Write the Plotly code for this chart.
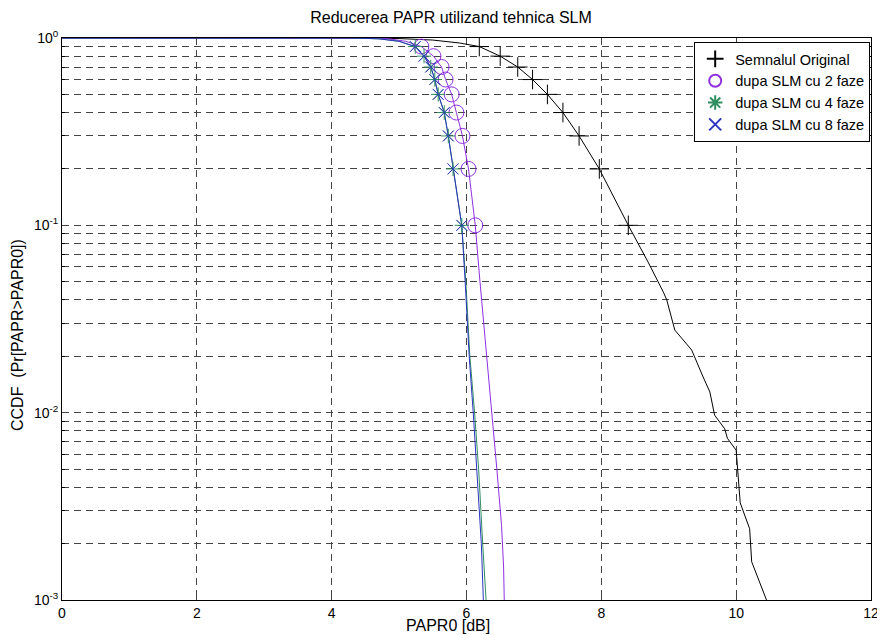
import plotly.graph_objects as go

# ---- data ----
marker_levels = [0.9, 0.8, 0.7, 0.6, 0.5, 0.4, 0.3, 0.2, 0.1]

orig_x = [0.0, 3.5, 4.5, 5.0, 5.5, 5.9, 6.19, 6.5, 6.76, 6.98, 7.2, 7.43, 7.67, 7.97, 8.4,
          8.7, 8.92, 8.97, 9.09, 9.31, 9.34, 9.51, 9.61, 9.68, 9.83, 9.87, 10.0, 10.06,
          10.2, 10.23, 10.45]
orig_y = [1.0, 1.0, 0.999, 0.993, 0.975, 0.94, 0.9, 0.8, 0.7, 0.6, 0.5, 0.4, 0.3, 0.2, 0.1,
          0.063, 0.044, 0.040, 0.0276, 0.0220, 0.0216, 0.0155, 0.0129, 0.0097, 0.0082, 0.0073,
          0.0063, 0.0033, 0.0024, 0.0016, 0.001]
orig_mx = [6.19, 6.50, 6.76, 6.98, 7.20, 7.43, 7.67, 7.97, 8.40]

slm2_x = [0.0, 4.4, 4.8, 5.1, 5.33, 5.51, 5.63, 5.69, 5.78, 5.85, 5.94, 6.03, 6.13,
          6.2, 6.3, 6.38, 6.45, 6.52, 6.55, 6.56]
slm2_y = [1.0, 1.0, 0.995, 0.96, 0.9, 0.8, 0.7, 0.6, 0.5, 0.4, 0.3, 0.2, 0.1,
          0.05, 0.02, 0.01, 0.005, 0.0025, 0.0015, 0.001]
slm2_mx = [5.33, 5.51, 5.63, 5.69, 5.78, 5.85, 5.94, 6.03, 6.13]

slm4_x = [0.0, 4.3, 4.7, 5.0, 5.24, 5.37, 5.47, 5.53, 5.58, 5.67, 5.73, 5.80, 5.93,
          5.99, 6.05, 6.12, 6.18, 6.24, 6.29]
slm4_y = [1.0, 1.0, 0.99, 0.96, 0.9, 0.8, 0.7, 0.6, 0.5, 0.4, 0.3, 0.2, 0.1,
          0.05, 0.02, 0.01, 0.005, 0.002, 0.001]
slm4_mx = [5.24, 5.37, 5.47, 5.53, 5.58, 5.67, 5.73, 5.80, 5.93]

slm8_x = [0.0, 4.3, 4.7, 5.0, 5.24, 5.37, 5.47, 5.53, 5.58, 5.67, 5.73, 5.80, 5.93,
          5.98, 6.04, 6.10, 6.15, 6.22, 6.25]
slm8_y = [1.0, 1.0, 0.99, 0.96, 0.9, 0.8, 0.7, 0.6, 0.5, 0.4, 0.3, 0.2, 0.1,
          0.05, 0.02, 0.01, 0.005, 0.002, 0.001]
slm8_mx = [5.24, 5.37, 5.47, 5.53, 5.58, 5.67, 5.73, 5.80, 5.93]

names = ["Semnalul Original", "dupa SLM cu 2 faze", "dupa SLM cu 4 faze", "dupa SLM cu 8 faze"]
x_ticks = [0, 2, 4, 6, 8, 10, 12]
y_ticks = [0.001, 0.01, 0.1, 1]
y_ticktext = ["10<sup>-3</sup>", "10<sup>-2</sup>", "10<sup>-1</sup>", "10<sup>0</sup>"]

colors = ["#000000", "#9030e0", "#2f8f5f", "#2b35c0"]
symbols = ["cross-thin-open", "circle-open", "asterisk-open", "x-thin-open"]
msizes = [14, 15, 12, 11]

fig = go.Figure()

series = [(orig_x, orig_y, orig_mx), (slm2_x, slm2_y, slm2_mx),
          (slm4_x, slm4_y, slm4_mx), (slm8_x, slm8_y, slm8_mx)]

for i, (lx, ly, mx) in enumerate(series):
    fig.add_trace(go.Scatter(x=lx, y=ly, mode="lines", showlegend=False,
                             line=dict(color=colors[i], width=1)))
for i, (lx, ly, mx) in enumerate(series):
    fig.add_trace(go.Scatter(x=mx, y=marker_levels, mode="markers", name=names[i],
                             marker=dict(symbol=symbols[i], size=msizes[i],
                                         color=colors[i],
                                         line=dict(color=colors[i], width=1))))

font_family = "Liberation Sans, Arial, sans-serif"
grid_col = "#444444"
dash = "7px,5px"

# page body has an 8px margin, so the figure starts 8px in from the window corner
fig.update_layout(
    width=877, height=627,
    margin=dict(l=54, r=14, t=30, b=35),
    paper_bgcolor="white", plot_bgcolor="white",
    font=dict(family=font_family, size=14, color="black"),
    title=dict(text="Reducerea PAPR utilizand tehnica SLM", x=443 / 877, xanchor="center",
               y=1 - 9 / 627, yanchor="middle", font=dict(size=16)),
    showlegend=True,
    legend=dict(x=0.999, xanchor="right", y=0.993, yanchor="top",
                bordercolor="black", borderwidth=1, bgcolor="white",
                font=dict(size=14.5), itemsizing="constant",
                tracegroupgap=0, itemwidth=30),
    annotations=[
        dict(text="PAPR0 [dB]", xref="paper", yref="paper", x=0.477, y=0,
             xanchor="center", yanchor="middle", yshift=-25, showarrow=False,
             font=dict(size=16)),
        dict(text="CCDF  (Pr[PAPR>PAPR0])", xref="paper", yref="paper", x=0,
             y=0.4715, xanchor="center", yanchor="middle", xshift=-45,
             textangle=-90, showarrow=False, font=dict(size=16)),
    ],
)

fig.update_xaxes(
    range=[0, 12], tickvals=x_ticks, ticks="inside", ticklen=5, automargin=False,
    showline=True, linecolor="black", linewidth=1, mirror="ticks",
    showgrid=True, gridcolor=grid_col, griddash=dash, gridwidth=1,
    zeroline=False, tickfont=dict(size=14), ticklabeloverflow="allow",
)
fig.update_yaxes(
    type="log", range=[-3, 0], tickvals=y_ticks, ticktext=y_ticktext,
    ticks="inside", ticklen=5, automargin=False, ticklabelstandoff=0,
    showline=True, linecolor="black", linewidth=1, mirror="ticks",
    showgrid=True, gridcolor=grid_col, griddash=dash, gridwidth=1,
    tickfont=dict(size=14), ticklabeloverflow="allow",
    minor=dict(dtick="D1", ticks="inside", ticklen=3, tickcolor="black",
               showgrid=True, gridcolor=grid_col, griddash=dash, gridwidth=1),
)

fig.write_html("out.html")
